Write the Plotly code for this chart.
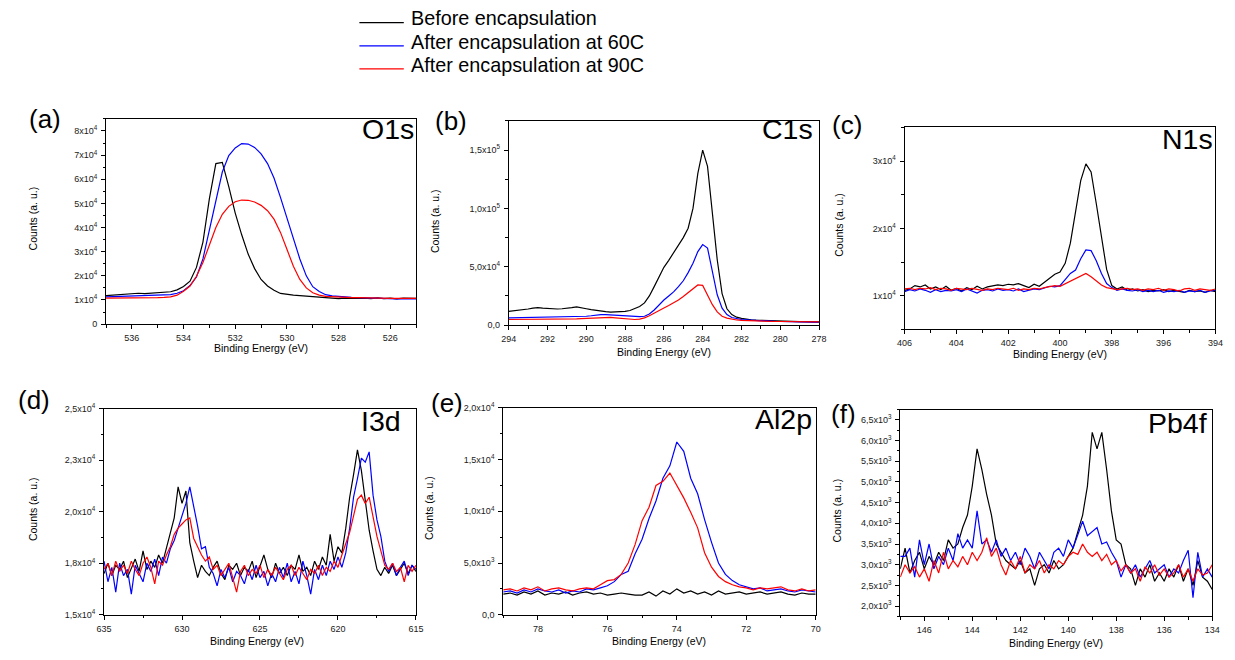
import numpy as np
import plotly.graph_objects as go

W, H = 1235, 660
FONT = "Arial, 'Liberation Sans', Helvetica, sans-serif"

series_names = ["Before encapsulation", "After encapsulation at 60C", "After encapsulation at 90C"]
series_colors = ["#000000", "#0000ff", "#ff0000"]

# ---------------- O1s (counts in units of 1e4) ----------------
o1s_energy = np.linspace(537.0, 525.0, 49)
o1s_before = [
    1.18, 1.20, 1.22, 1.25, 1.27, 1.28, 1.26, 1.28, 1.29, 1.31,
    1.34, 1.42, 1.56, 1.78, 2.35, 3.40, 5.20, 6.65, 6.70, 5.70,
    4.60, 3.70, 2.90, 2.30, 1.85, 1.58, 1.40, 1.27, 1.22, 1.20,
    1.18, 1.16, 1.13, 1.10, 1.09, 1.08, 1.06, 1.08, 1.06, 1.07,
    1.08, 1.06, 1.09, 1.06, 1.08, 1.05, 1.08, 1.06, 1.07,
]
o1s_60c = [
    1.13, 1.14, 1.15, 1.15, 1.16, 1.16, 1.17, 1.18, 1.19, 1.20,
    1.22, 1.28, 1.38, 1.60, 1.95, 2.70, 3.90, 5.20, 6.30, 6.98,
    7.30, 7.48, 7.46, 7.32, 7.05, 6.65, 6.05, 5.25, 4.40, 3.50,
    2.70, 2.00, 1.55, 1.35, 1.22, 1.17, 1.14, 1.12, 1.11, 1.10,
    1.09, 1.07, 1.06, 1.05, 1.06, 1.05, 1.05, 1.04, 1.05,
]
o1s_90c = [
    1.08, 1.08, 1.09, 1.08, 1.07, 1.09, 1.10, 1.10, 1.10, 1.11,
    1.13, 1.20, 1.36, 1.58, 1.98, 2.55, 3.30, 4.00, 4.55, 4.88,
    5.07, 5.14, 5.13, 5.06, 4.92, 4.70, 4.35, 3.80, 3.10, 2.40,
    1.85, 1.50, 1.30, 1.20, 1.15, 1.13, 1.12, 1.11, 1.10, 1.10,
    1.09, 1.09, 1.08, 1.08, 1.07, 1.07, 1.08, 1.07, 1.07,
]
o1s_xticks = [536, 534, 532, 530, 528, 526]
o1s_yticks = [0, 1e4, 2e4, 3e4, 4e4, 5e4, 6e4, 7e4, 8e4]
o1s_yticklabels = ["0"] + [f"{i}x10<sup>4</sup>" for i in range(1, 9)]

# ---------------- C1s (units of 1e4) ----------------
c1s_energy = np.linspace(294.0, 278.0, 65)
c1s_before = [
    1.18, 1.22, 1.25, 1.30, 1.38, 1.45, 1.50, 1.45, 1.42, 1.40,
    1.38, 1.40, 1.42, 1.50, 1.56, 1.45, 1.40, 1.32, 1.25, 1.20,
    1.15, 1.12, 1.13, 1.15, 1.18, 1.25, 1.40, 1.60, 1.90, 2.50,
    3.30, 4.20, 4.95, 5.55, 6.20, 6.90, 7.50, 8.30, 10.0, 13.0,
    15.0, 13.6, 9.60, 5.60, 2.70, 1.40, 0.90, 0.68, 0.58, 0.50,
    0.45, 0.42, 0.40, 0.38, 0.36, 0.34, 0.33, 0.32, 0.31, 0.30,
    0.30, 0.29, 0.28, 0.28, 0.28,
]
c1s_60c = [
    0.62, 0.63, 0.65, 0.66, 0.66, 0.66, 0.65, 0.65, 0.66, 0.67,
    0.68, 0.68, 0.68, 0.70, 0.72, 0.74, 0.76, 0.80, 0.86, 0.90,
    0.90, 0.88, 0.84, 0.80, 0.76, 0.74, 0.72, 0.72, 0.76, 0.95,
    1.30, 1.75, 2.15, 2.50, 2.85, 3.30, 3.80, 4.50, 5.30, 6.30,
    6.90, 6.60, 4.60, 2.60, 1.45, 0.90, 0.65, 0.55, 0.48, 0.45,
    0.42, 0.40, 0.38, 0.36, 0.34, 0.32, 0.31, 0.30, 0.28, 0.26,
    0.25, 0.24, 0.24, 0.23, 0.23,
]
c1s_90c = [
    0.48, 0.48, 0.49, 0.50, 0.50, 0.50, 0.50, 0.50, 0.50, 0.50,
    0.50, 0.50, 0.50, 0.52, 0.54, 0.56, 0.58, 0.62, 0.66, 0.68,
    0.68, 0.66, 0.62, 0.58, 0.52, 0.50, 0.48, 0.52, 0.62, 0.80,
    1.04, 1.25, 1.47, 1.68, 1.89, 2.15, 2.45, 2.80, 3.16, 3.44,
    3.40, 2.60, 1.75, 1.13, 0.76, 0.60, 0.50, 0.44, 0.40, 0.38,
    0.36, 0.35, 0.34, 0.33, 0.32, 0.31, 0.31, 0.30, 0.30, 0.29,
    0.29, 0.28, 0.28, 0.28, 0.28,
]
c1s_xticks = [294, 292, 290, 288, 286, 284, 282, 280, 278]
c1s_yticks = [0, 5e4, 1e5, 1.5e5]
c1s_yticklabels = ["0,0", "5,0x10<sup>4</sup>", "1,0x10<sup>5</sup>", "1,5x10<sup>5</sup>"]

# ---------------- N1s (units of 1e4) ----------------
n1s_energy = np.linspace(406.0, 394.0, 61)
n1s_before = [
    1.08, 1.10, 1.15, 1.13, 1.16, 1.10, 1.13, 1.09, 1.14, 1.08,
    1.11, 1.07, 1.12, 1.09, 1.14, 1.10, 1.13, 1.15, 1.16, 1.15,
    1.17, 1.16, 1.18, 1.15, 1.12, 1.17, 1.14, 1.20, 1.26, 1.32,
    1.35, 1.48, 1.78, 2.22, 2.71, 2.96, 2.84, 2.37, 1.88, 1.39,
    1.15, 1.10, 1.13, 1.08, 1.10, 1.07, 1.09, 1.06, 1.08, 1.07,
    1.09, 1.06, 1.08, 1.07, 1.05, 1.08, 1.06, 1.07, 1.05, 1.08,
    1.06,
]
n1s_60c = [
    1.06, 1.09, 1.07, 1.10, 1.08, 1.05, 1.09, 1.06, 1.08, 1.07,
    1.09, 1.06, 1.10, 1.07, 1.04, 1.08, 1.09, 1.07, 1.10, 1.08,
    1.09, 1.07, 1.10, 1.06, 1.08, 1.10, 1.09, 1.12, 1.14, 1.13,
    1.15, 1.24, 1.33, 1.38, 1.55, 1.68, 1.67, 1.52, 1.33, 1.18,
    1.12, 1.08, 1.10, 1.08, 1.07, 1.09, 1.06, 1.08, 1.06, 1.08,
    1.05, 1.07, 1.06, 1.08, 1.05, 1.07, 1.06, 1.08, 1.05, 1.07,
    1.08,
]
n1s_90c = [
    1.10, 1.11, 1.09, 1.11, 1.10, 1.12, 1.09, 1.11, 1.10, 1.08,
    1.11, 1.10, 1.09, 1.11, 1.10, 1.08, 1.10, 1.09, 1.11, 1.10,
    1.09, 1.11, 1.08, 1.10, 1.09, 1.11, 1.10, 1.12, 1.14, 1.15,
    1.14, 1.18, 1.22, 1.26, 1.30, 1.33, 1.28, 1.22, 1.16, 1.12,
    1.10, 1.09, 1.10, 1.11, 1.09, 1.10, 1.08, 1.10, 1.09, 1.11,
    1.08, 1.10, 1.09, 1.07, 1.10, 1.11, 1.08, 1.10, 1.09, 1.08,
    1.10,
]
n1s_xticks = [406, 404, 402, 400, 398, 396, 394]
n1s_yticks = [1e4, 2e4, 3e4]
n1s_yticklabels = ["1x10<sup>4</sup>", "2x10<sup>4</sup>", "3x10<sup>4</sup>"]

# ---------------- I3d (units of 1e3) ----------------
i3d_energy = np.linspace(635.0, 615.0, 81)
i3d_before = [
    17.0, 17.5, 16.9, 17.4, 17.2, 17.6, 16.8, 17.3, 17.7, 17.1,
    18.1, 17.2, 17.6, 17.3, 17.9, 17.5, 18.2, 18.9, 19.7, 21.2,
    20.4, 21.0, 18.5, 17.6, 16.8, 17.4, 17.1, 16.9, 17.3, 17.6,
    17.0, 16.7, 17.4, 17.2, 17.5, 16.9, 17.3, 17.1, 17.6, 16.8,
    17.4, 17.9, 17.2, 16.8, 17.5, 17.0, 17.3, 16.9, 17.4, 17.2,
    17.9, 17.1, 17.3, 16.9, 17.6, 17.2, 17.8, 17.4, 18.9, 17.6,
    18.3, 18.0, 19.2, 20.7, 21.8, 23.0, 22.0, 20.6, 19.1, 18.1,
    17.2, 16.9, 17.3, 17.0, 17.4, 16.9, 17.2, 17.5, 17.0, 17.4,
    17.1,
]
i3d_60c = [
    17.6, 16.6, 17.3, 16.1, 17.5, 16.9, 17.2, 16.0, 17.4, 17.0,
    16.6, 17.5, 17.1, 17.7, 16.9, 17.8, 17.5, 18.2, 18.6, 19.2,
    19.8, 20.4, 21.2, 20.3, 19.3, 18.2, 18.3, 17.3, 17.0, 16.4,
    17.2, 16.8, 17.3, 16.6, 17.1, 16.9, 16.5, 17.2, 16.7, 17.4,
    16.8, 17.1, 16.4, 17.0, 16.6, 17.3, 16.8, 17.5, 16.6, 17.1,
    16.5, 17.6, 16.9, 16.0, 17.2, 16.7, 17.4, 16.9, 17.6, 17.2,
    17.8, 17.3, 18.0, 19.2, 20.7, 21.6, 22.6, 22.4, 22.9, 20.8,
    19.6, 18.8, 17.6, 17.1, 17.5, 16.9, 17.3, 17.6, 16.9, 17.4,
    17.2,
]
i3d_90c = [
    17.2, 17.5, 16.9, 17.6, 17.1, 17.4, 17.0, 17.6, 17.2, 16.9,
    17.5, 17.8, 17.3, 16.5, 17.6, 17.4, 17.9, 18.3, 18.9, 19.2,
    19.4, 19.6, 19.7, 18.7, 18.3, 17.9, 17.6, 17.8, 17.2, 17.4,
    16.9, 17.2, 17.5, 16.8, 16.1, 17.1, 17.4, 16.9, 17.2, 17.0,
    17.4, 16.8, 17.2, 16.9, 17.3, 17.0, 16.7, 17.2, 17.4, 16.9,
    17.3, 17.0, 16.7, 17.2, 17.0, 17.4, 16.9, 17.3, 17.1, 17.6,
    17.3, 17.9, 18.5, 19.0, 19.8, 20.6, 20.8, 20.4, 20.7, 19.8,
    18.8, 18.1, 17.4, 17.2, 17.5, 17.1, 17.3, 16.6, 17.4, 17.1,
    17.4,
]
i3d_xticks = [635, 630, 625, 620, 615]
i3d_yticks = [15000, 17500, 20000, 22500, 25000]
i3d_yticklabels = ["1,5x10<sup>4</sup>", "1,8x10<sup>4</sup>", "2,0x10<sup>4</sup>",
                   "2,3x10<sup>4</sup>", "2,5x10<sup>4</sup>"]

# ---------------- Al2p (units of 1e3) ----------------
al2p_energy = np.linspace(79.0, 70.0, 46)
al2p_before = [
    2.0, 2.1, 1.9, 2.2, 2.0, 2.3, 1.9, 2.1, 2.0, 2.2,
    1.9, 2.1, 2.2, 2.0, 2.1, 1.9, 2.0, 2.1, 2.0, 1.9,
    1.9, 2.2, 1.8, 2.3, 2.0, 2.5, 2.1, 2.3, 2.0, 2.2,
    1.9, 2.3, 2.0, 2.1, 2.2, 2.0, 2.1, 2.2, 2.0, 2.1,
    2.2, 2.0, 1.9, 2.1, 2.0, 2.0,
]
al2p_60c = [
    2.2, 2.3, 2.1, 2.4, 2.2, 2.5, 2.3, 2.2, 2.4, 2.1,
    2.3, 2.2, 2.5, 2.4, 2.6, 2.8, 3.2, 3.9, 4.2, 5.9,
    7.3, 9.3, 11.0, 13.2, 14.4, 16.7, 15.8, 13.2, 11.7, 9.2,
    7.0, 5.0, 3.9, 3.3, 2.9, 2.7, 2.5, 2.6, 2.3, 2.4,
    2.5, 2.3, 2.2, 2.4, 2.3, 2.2,
]
al2p_90c = [
    2.4, 2.5, 2.3, 2.6, 2.4, 2.7, 2.3, 2.5, 2.6, 2.4,
    2.3, 2.5, 2.6, 2.5, 2.9, 3.3, 3.4, 3.9, 5.0, 6.8,
    9.1, 10.4, 12.5, 12.9, 13.7, 12.5, 11.3, 9.9, 8.4, 6.0,
    4.6, 3.7, 3.2, 2.9, 2.7, 2.6, 2.4, 2.6, 2.5, 2.6,
    2.7, 2.4, 2.3, 2.5, 2.3, 2.4,
]
al2p_xticks = [78, 76, 74, 72, 70]
al2p_yticks = [0, 5e3, 1e4, 1.5e4, 2e4]
al2p_yticklabels = ["0,0", "5,0x10<sup>3</sup>", "1,0x10<sup>4</sup>",
                    "1,5x10<sup>4</sup>", "2,0x10<sup>4</sup>"]

# ---------------- Pb4f (units of 1e3) ----------------
pb4f_energy = np.linspace(147.0, 134.0, 66)
pb4f_before = [
    2.9, 3.4, 2.8, 3.1, 3.3, 2.9, 3.2, 3.0, 3.3, 3.1,
    3.6, 3.4, 3.5, 3.9, 4.2, 4.9, 5.8, 5.3, 4.7, 4.2,
    3.5, 3.3, 3.1, 3.0, 2.9, 3.1, 2.8, 2.9, 2.5, 2.9,
    3.0, 2.8, 3.1, 2.9, 3.0, 3.2, 3.4, 3.8, 4.2, 4.9,
    6.2, 5.8, 6.2, 5.3, 4.3, 3.6, 3.5, 3.0, 2.9, 2.5,
    2.9, 2.7, 3.0, 2.6, 2.8, 2.6, 2.9, 2.7, 3.0, 2.6,
    2.9, 2.5, 3.1, 2.7, 2.6, 2.4,
]
pb4f_60c = [
    3.2, 3.2, 3.4, 2.7, 3.6, 3.0, 3.5, 2.9, 3.2, 3.0,
    3.4, 3.1, 3.75, 3.4, 3.6, 3.4, 4.3, 3.5, 3.6, 3.3,
    3.6, 3.2, 3.4, 3.1, 3.3, 3.0, 3.4, 3.2, 2.9, 3.3,
    3.1, 2.9, 3.3, 3.4, 3.2, 3.6, 3.4, 3.7, 4.05, 3.7,
    3.8, 3.9, 3.5, 3.55, 3.3, 3.1, 2.7, 3.0, 2.8, 3.0,
    2.7, 2.9, 3.1, 2.8, 2.9, 3.0, 2.7, 2.9, 2.8, 3.1,
    3.35, 2.2, 3.3, 2.7, 2.9, 2.7,
]
pb4f_90c = [
    2.7, 3.0, 2.8, 2.95, 2.7, 2.9, 2.6, 3.1, 2.8, 3.3,
    2.9, 3.1, 2.95, 3.2, 3.0, 3.3, 3.1, 3.3, 3.65, 3.2,
    3.4, 3.0, 2.75, 3.1, 2.9, 3.2, 2.8, 3.0, 2.9, 3.1,
    2.8, 3.0, 2.9, 3.1, 3.0, 3.2, 3.3, 3.25, 3.5, 3.3,
    3.2, 3.3, 3.1, 3.25, 3.0, 3.1, 2.85, 3.0, 2.8, 2.9,
    2.6, 2.95, 2.8, 3.0, 2.75, 2.9, 2.7, 2.8, 3.0, 2.7,
    2.9, 2.6, 2.9, 2.75, 2.8, 3.0,
]
pb4f_xticks = [146, 144, 142, 140, 138, 136, 134]
pb4f_yticks = [2000, 2500, 3000, 3500, 4000, 4500, 5000, 5500, 6000, 6500]
pb4f_yticklabels = [f"{v / 1000:.1f}".replace(".", ",") + "x10<sup>3</sup>" for v in pb4f_yticks]

# ---------------- panel table ----------------
# frame = (left, top, right, bottom) of the plotting box in pixels
panels = [
    dict(letter="(a)", core="O1s", energy=o1s_energy, scale=1e4,
         series=[o1s_before, o1s_60c, o1s_90c],
         xrange=[537, 525], xticks=o1s_xticks, xminor=1,
         yrange=[0, 8.5e4], yticks=o1s_yticks, ytext=o1s_yticklabels, yminor=5e3,
         frame=(99.3, 114, 413.5, 323), letter_pos=(37, 120), core_pos=(413, 131),
         ytitle_pos=(28, 215), xtitle_pos=(256, 350)),
    dict(letter="(b)", core="C1s", energy=c1s_energy, scale=1e4,
         series=[c1s_before, c1s_60c, c1s_90c],
         xrange=[294, 278], xticks=c1s_xticks, xminor=1,
         yrange=[0, 1.75e5], yticks=c1s_yticks, ytext=c1s_yticklabels, yminor=2.5e4,
         frame=(507.3, 116, 821.7, 324), letter_pos=(449, 122), core_pos=(818, 131),
         ytitle_pos=(435, 218), xtitle_pos=(665, 354)),
    dict(letter="(c)", core="N1s", energy=n1s_energy, scale=1e4,
         series=[n1s_before, n1s_60c, n1s_90c],
         xrange=[406, 394], xticks=n1s_xticks, xminor=1,
         yrange=[5e3, 3.5e4], yticks=n1s_yticks, ytext=n1s_yticklabels, yminor=5e3,
         frame=(908.3, 122.7, 1223.3, 328.3), letter_pos=(850, 126), core_pos=(1223, 141),
         ytitle_pos=(844, 222), xtitle_pos=(1066, 356)),
    dict(letter="(d)", core="I3d", energy=i3d_energy, scale=1e3,
         series=[i3d_before, i3d_60c, i3d_90c],
         xrange=[635, 615], xticks=i3d_xticks, xminor=2.5,
         yrange=[1.5e4, 2.5e4], yticks=i3d_yticks, ytext=i3d_yticklabels, yminor=1250,
         frame=(97.3, 409, 413.3, 619), letter_pos=(26, 406), core_pos=(400, 428),
         ytitle_pos=(27, 511), xtitle_pos=(252, 648)),
    dict(letter="(e)", core="Al2p", energy=al2p_energy, scale=1e3,
         series=[al2p_before, al2p_60c, al2p_90c],
         xrange=[79, 70], xticks=al2p_xticks, xminor=1,
         yrange=[0, 2e4], yticks=al2p_yticks, ytext=al2p_yticklabels, yminor=2500,
         frame=(501.7, 408.3, 818.3, 619), letter_pos=(445, 409), core_pos=(817, 426),
         ytitle_pos=(429, 510), xtitle_pos=(660, 648)),
    dict(letter="(f)", core="Pb4f", energy=pb4f_energy, scale=1e3,
         series=[pb4f_before, pb4f_60c, pb4f_90c],
         xrange=[147, 134], xticks=pb4f_xticks, xminor=1,
         yrange=[1750, 6750], yticks=pb4f_yticks, ytext=pb4f_yticklabels, yminor=250,
         frame=(904, 410, 1220, 620.7), letter_pos=(846, 420), core_pos=(1217, 430),
         ytitle_pos=(842, 513), xtitle_pos=(1062, 650)),
]

# rendered annotation glyphs sit ~0.22 em below the anchor point; compensate
BASELINE_SHIFT = 0.22


def fx(px):
    return px / W


def fy(py):
    return 1 - py / H


def text_note(text, px, py, size, xanchor="center", angle=0):
    if angle == 0:
        py = py - BASELINE_SHIFT * size
    else:
        px = px - BASELINE_SHIFT * size
    return dict(text=text, x=fx(px), y=fy(py), xref="paper", yref="paper",
                xanchor=xanchor, yanchor="middle", textangle=angle, showarrow=False,
                font=dict(size=size, family=FONT, color="black"))


tick_font = dict(family=FONT, size=9, color="#1a1a1a")
fig = go.Figure()
layout = dict(width=W, height=H, margin=dict(l=0, r=0, t=0, b=0),
              paper_bgcolor="white", plot_bgcolor="white", showlegend=False,
              font=dict(family=FONT, color="black"))
annotations = []
shapes = []

n = len(panels)
for k, p in enumerate(panels, start=1):
    xs = "" if k == 1 else str(k)
    xref, yref = "x" + xs, "y" + xs
    left, top, right, bottom = p["frame"]
    xdom = [fx(left), fx(right)]
    ydom = [fy(bottom), fy(top)]

    for vals, name, color in zip(p["series"], series_names, series_colors):
        assert len(vals) == len(p["energy"]), (p["core"], name)
        fig.add_trace(go.Scatter(
            x=p["energy"], y=np.asarray(vals) * p["scale"], name=name,
            mode="lines", line=dict(color=color, width=1.2),
            xaxis=xref, yaxis=yref, hoverinfo="skip"))

    layout["xaxis" + xs] = dict(
        domain=xdom, anchor=yref, range=p["xrange"], tickmode="array",
        tickvals=p["xticks"], ticks="outside", ticklen=4, tickwidth=1, tickcolor="black",
        minor=dict(ticks="outside", ticklen=2.5, tickwidth=1, tickcolor="black",
                   dtick=p["xminor"], tick0=0),
        showline=True, linecolor="black", linewidth=1, mirror=True,
        showgrid=False, zeroline=False, tickfont=tick_font, ticklabelstandoff=1)
    layout["yaxis" + xs] = dict(
        domain=ydom, anchor=xref, range=p["yrange"], tickmode="array",
        tickvals=p["yticks"], ticktext=p["ytext"], ticks="outside", ticklen=4,
        tickwidth=1, tickcolor="black",
        minor=dict(ticks="outside", ticklen=2.5, tickwidth=1, tickcolor="black",
                   dtick=p["yminor"], tick0=0),
        showline=True, linecolor="black", linewidth=1, mirror=True,
        showgrid=False, zeroline=False, tickfont=tick_font, ticklabelstandoff=2)

    # inward ticks on the top and right edges of the box
    j = str(k + n)
    layout["xaxis" + j] = dict(
        overlaying=xref, side="top", anchor=yref, range=p["xrange"], tickmode="array",
        tickvals=p["xticks"], ticks="inside", ticklen=3, tickcolor="black",
        minor=dict(ticks="inside", ticklen=2, tickcolor="black", dtick=p["xminor"], tick0=0),
        showticklabels=False, showline=False, showgrid=False, zeroline=False)
    layout["yaxis" + j] = dict(
        overlaying=yref, side="right", anchor=xref, range=p["yrange"], tickmode="array",
        tickvals=p["yticks"], ticks="inside", ticklen=3, tickcolor="black",
        minor=dict(ticks="inside", ticklen=2, tickcolor="black", dtick=p["yminor"], tick0=0),
        showticklabels=False, showline=False, showgrid=False, zeroline=False)

    annotations.append(text_note(p["letter"], *p["letter_pos"], size=26))
    annotations.append(text_note(p["core"], *p["core_pos"], size=28.5, xanchor="right"))
    annotations.append(text_note("Counts (a. u.)", *p["ytitle_pos"], size=10.5, angle=-90))
    annotations.append(text_note("Binding Energy (eV)", *p["xtitle_pos"], size=10.5))

# shared key above the panels
key_rows = [16, 39.5, 63]
for name, color, ky in zip(series_names, series_colors, key_rows):
    shapes.append(dict(type="line", xref="paper", yref="paper",
                       x0=fx(356), x1=fx(401), y0=fy(ky), y1=fy(ky),
                       line=dict(color=color, width=1.2)))
    annotations.append(text_note(name, 406, ky, size=19.8, xanchor="left"))

layout["annotations"] = annotations
layout["shapes"] = shapes
fig.update_layout(**layout)
fig.write_html("out.html")
